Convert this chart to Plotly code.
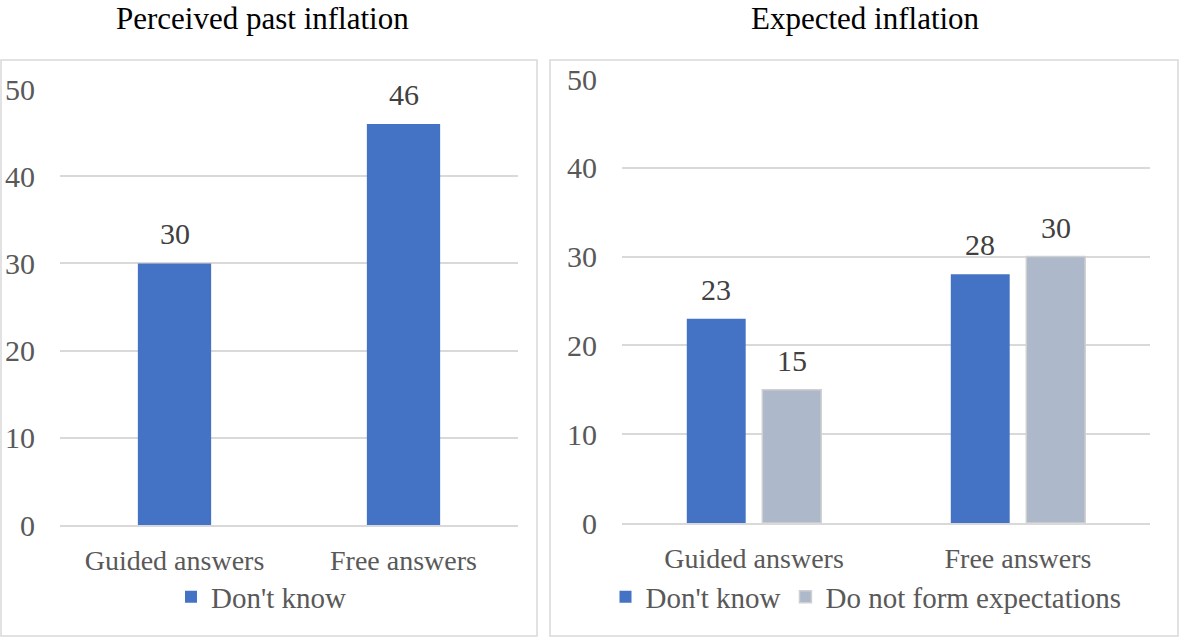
import plotly.graph_objects as go

# Datos
categorias = ["Guided answers", "Free answers"]
pasada_no_sabe = [30, 46]
esperada_no_sabe = [23, 28]
esperada_no_forma = [15, 30]

titulo_izq = "Perceived past inflation"
titulo_der = "Expected inflation"
nombre_no_sabe = "Don't know"
nombre_no_forma = "Do not form expectations"

AZUL = "#4472C4"
GRIS = "#ADB9CA"
FUENTE = "Liberation Serif"
W, H = 1182, 639


def px_x(p):
    return p / W


def px_y(p):
    return 1 - p / H


fig = go.Figure()

# Panel izquierdo
fig.add_trace(go.Bar(
    x=categorias, y=pasada_no_sabe, name=nombre_no_sabe,
    marker=dict(color=AZUL, line=dict(width=0)),
    xaxis="x", yaxis="y", legend="legend", width=0.32
))

# Panel derecho
fig.add_trace(go.Bar(
    x=categorias, y=esperada_no_sabe, name=nombre_no_sabe,
    marker=dict(color=AZUL, line=dict(width=0)),
    xaxis="x2", yaxis="y2", legend="legend2", offsetgroup="a"
))
fig.add_trace(go.Bar(
    x=categorias, y=esperada_no_forma, name=nombre_no_forma,
    marker=dict(color=GRIS, line=dict(color="#D0D0D0", width=1.5)),
    xaxis="x2", yaxis="y2", legend="legend2", offsetgroup="b"
))

# Etiquetas de datos
anots = []
for c, v in zip(categorias, pasada_no_sabe):
    anots.append(dict(x=c, y=v, xref="x", yref="y", text=str(v), showarrow=False,
                      yanchor="bottom", yshift=11,
                      font=dict(family=FUENTE, size=30, color="#404040")))
for serie, dx in ((esperada_no_sabe, -37.75), (esperada_no_forma, 37.75)):
    for c, v in zip(categorias, serie):
        anots.append(dict(x=c, y=v, xref="x2", yref="y2", text=str(v), showarrow=False,
                          yanchor="bottom", yshift=11, xshift=dx,
                          font=dict(family=FUENTE, size=30, color="#404040")))

# Titulos
for txt, cx in ((titulo_izq, 262), (titulo_der, 865)):
    anots.append(dict(x=px_x(cx), y=px_y(19), xref="paper", yref="paper", text=txt,
                      showarrow=False, xanchor="center", yanchor="middle",
                      font=dict(family=FUENTE, size=31, color="#000000")))

# Marcos de cada panel
marcos = [
    dict(type="rect", xref="paper", yref="paper", x0=px_x(1), x1=px_x(537),
         y0=px_y(636), y1=px_y(60), line=dict(color="#D9D9D9", width=1.5)),
    dict(type="rect", xref="paper", yref="paper", x0=px_x(550), x1=px_x(1178),
         y0=px_y(636), y1=px_y(60), line=dict(color="#D9D9D9", width=1.5)),
]

eje_y = dict(range=[0, 50], dtick=10, showgrid=True, gridcolor="#D9D9D9", gridwidth=1.5,
             zeroline=False, showline=False, ticks="", ticklabelstandoff=24, automargin=False,
             tickfont=dict(family=FUENTE, size=30, color="#595959"))
eje_x = dict(showgrid=False, showline=True, linecolor="#D9D9D9", linewidth=1.5,
             ticks="", ticklabelstandoff=10, automargin=False,
             tickfont=dict(family=FUENTE, size=28, color="#595959"))

fig.update_layout(
    width=W, height=H,
    margin=dict(l=0, r=0, t=0, b=0),
    paper_bgcolor="white", plot_bgcolor="white",
    font=dict(family=FUENTE),
    barmode="group", bargap=0.428, bargroupgap=0.22,
    xaxis=dict(eje_x, domain=[px_x(60), px_x(518)], anchor="y"),
    yaxis=dict(eje_y, domain=[px_y(525), px_y(89)], anchor="x"),
    xaxis2=dict(eje_x, domain=[px_x(622), px_x(1150)], anchor="y2"),
    yaxis2=dict(eje_y, domain=[px_y(523), px_y(79)], anchor="x2"),
    legend=dict(orientation="h", x=px_x(261), y=px_y(597), xanchor="center", yanchor="middle",
                font=dict(family=FUENTE, size=29, color="#595959"), bgcolor="rgba(0,0,0,0)"),
    legend2=dict(orientation="h", x=px_x(866), y=px_y(597), xanchor="center", yanchor="middle",
                 font=dict(family=FUENTE, size=29, color="#595959"), bgcolor="rgba(0,0,0,0)",
                 itemwidth=30),
    annotations=anots,
    shapes=marcos,
    showlegend=True,
)

fig.write_html("out.html", config={"displayModeBar": False},
               post_script="document.body.style.margin='0';")
